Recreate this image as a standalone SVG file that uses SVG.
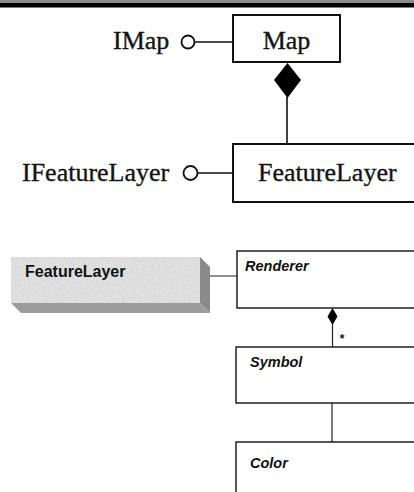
<svg xmlns="http://www.w3.org/2000/svg" width="414" height="492" viewBox="0 0 414 492">
  <defs>
    <style>
      .serif { font-family: "Liberation Serif", "Times New Roman", serif; font-size: 26px; fill: #141414; stroke: #141414; stroke-width: 0.35; }
      .cls { font-family: "Liberation Sans", Arial, sans-serif; font-size: 14.5px; font-weight: bold; font-style: italic; fill: #111; }
      .box2 { fill: #fff; stroke: #111; stroke-width: 2; }
      .box1 { fill: #fff; stroke: #111; stroke-width: 1.4; }
      .wire { fill: none; stroke: #111; stroke-width: 1.6; }
      .thin { fill: none; stroke: #222; stroke-width: 1.2; }
      .lollipop { fill: #fff; stroke: #111; stroke-width: 1.8; }
      .diamond { fill: #000; stroke: none; }
    </style>
    <filter id="grain" x="0" y="0" width="100%" height="100%">
      <feTurbulence type="fractalNoise" baseFrequency="0.9" numOctaves="2" seed="4" result="n"/>
      <feColorMatrix in="n" type="matrix" values="0 0 0 0 0.5  0 0 0 0 0.5  0 0 0 0 0.5  0 0 0 -1.2 0.75" result="g"/>
      <feComposite in="g" in2="SourceGraphic" operator="in" result="gc"/>
      <feMerge><feMergeNode in="SourceGraphic"/><feMergeNode in="gc"/></feMerge>
    </filter>
  </defs>

  <rect width="414" height="492" fill="#fff"/>
  <!-- page header band -->
  <rect x="0" y="0" width="414" height="3" fill="#8c8c8c"/>
  <rect x="0" y="3" width="414" height="4.5" fill="#000"/>

  <!-- connectors -->
  <g id="connectors">
    <line class="wire" x1="195" y1="42" x2="233" y2="42"/>
    <line class="wire" x1="287" y1="97" x2="287" y2="144"/>
    <polygon class="diamond" points="287.5,63 301,80 287.5,98 274,80"/>
    <line class="wire" x1="198" y1="173" x2="233" y2="173"/>
    <line class="thin" x1="204" y1="276" x2="237" y2="276"/>
    <polygon class="diamond" points="332.5,308 337.5,316.5 332.5,325 327.5,316.5"/>
    <line class="thin" x1="332.5" y1="324" x2="332.5" y2="347"/>
    <text x="342" y="343" font-family="Liberation Sans, Arial, sans-serif" font-size="12" font-weight="bold" text-anchor="middle" fill="#111">*</text>
    <line class="thin" x1="332" y1="403" x2="332" y2="442"/>
  </g>

  <!-- IMap interface -->
  <g id="imap">
    <text class="serif" x="113" y="49">IMap</text>
    <circle class="lollipop" cx="188" cy="42" r="6.5"/>
  </g>

  <!-- Map class -->
  <g id="map">
    <rect class="box2" x="233" y="15" width="107" height="47"/>
    <text class="serif" x="286.5" y="49" text-anchor="middle">Map</text>
  </g>

  <!-- IFeatureLayer interface -->
  <g id="ifeaturelayer">
    <text class="serif" x="22" y="181">IFeatureLayer</text>
    <circle class="lollipop" cx="190.5" cy="173" r="7"/>
  </g>

  <!-- FeatureLayer class -->
  <g id="featurelayer">
    <rect class="box2" x="233" y="144" width="200" height="58"/>
    <text class="serif" x="258" y="181">FeatureLayer</text>
  </g>

  <!-- FeatureLayer coclass block (raised 3D tile) -->
  <g id="featurelayer-tile">
    <polygon points="200,257 210,267 210,313 200,303" fill="#8a8a8a"/>
    <polygon points="11,303 200,303 210,313 21,313" fill="#9c9c9c"/>
    <rect x="11" y="257" width="189" height="46" fill="#e4e4e4" filter="url(#grain)"/>
    <text x="25" y="277" font-family="Liberation Sans, Arial, sans-serif" font-size="16" font-weight="bold" fill="#111">FeatureLayer</text>
  </g>

  <!-- Renderer class -->
  <g id="renderer">
    <rect class="box1" x="237" y="251" width="200" height="57"/>
    <text class="cls" x="245" y="271">Renderer</text>
  </g>

  <!-- Symbol class -->
  <g id="symbol">
    <rect class="box1" x="236" y="347" width="200" height="56"/>
    <text class="cls" x="250" y="367">Symbol</text>
  </g>

  <!-- Color class -->
  <g id="color">
    <rect class="box1" x="236" y="442" width="200" height="60"/>
    <text class="cls" x="250" y="468">Color</text>
  </g>
</svg>
